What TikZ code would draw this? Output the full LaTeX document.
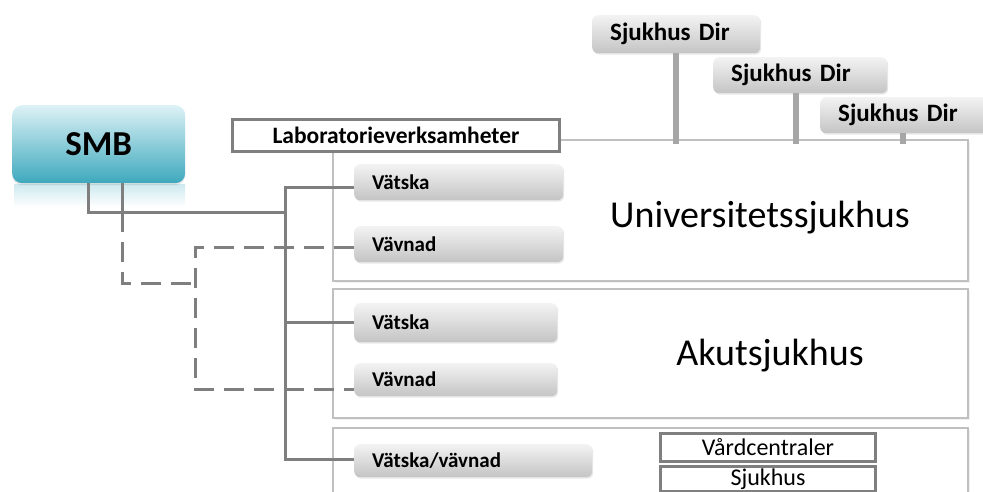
\documentclass[tikz,border=0pt]{standalone}
\usepackage{fontspec}
\setmainfont{Carlito}
\usetikzlibrary{shadows}
\definecolor{lineGray}{HTML}{7F7F7F}
\definecolor{panelGray}{HTML}{C0C0C0}
\definecolor{stemGray}{HTML}{A6A6A6}
\definecolor{btnTop}{HTML}{F3F3F3}
\definecolor{btnBot}{HTML}{C4C4C4}
\definecolor{smbTop}{HTML}{DDF2F6}
\definecolor{smbBot}{HTML}{3DA8BD}
\definecolor{smbRefl}{HTML}{CDE9EF}
\newcommand{\fsz}[1]{\fontsize{#1}{#1}\selectfont}
\begin{document}
\begin{tikzpicture}[x=1pt,y=-1pt,
  panel/.style={draw=panelGray, line width=1.5pt, fill=white, anchor=north west, inner sep=0pt,
    drop shadow={shadow xshift=2pt, shadow yshift=-2pt, opacity=0.12}},
  btn/.style={rounded corners=6pt, top color=btnTop, bottom color=btnBot, anchor=north west,
    inner xsep=18pt, inner ysep=0pt, align=left, font=\bfseries\fsz{21}, text=black,
    drop shadow={shadow xshift=1pt, shadow yshift=-1.5pt, opacity=0.18}},
  dirbox/.style={btn, font=\bfseries\fsz{25}},
  framebox/.style={draw=lineGray, line width=3pt, fill=white, anchor=north west, inner sep=0pt},
  solidc/.style={draw=lineGray, line width=3pt},
  dashc/.style={draw=lineGray, line width=3pt, dash pattern=on 20pt off 10pt},
  stem/.style={draw=stemGray, line width=6pt}
]
\useasboundingbox (0,0) rectangle (983,491);
\clip (0,0) rectangle (983,491);

% panels
\node[panel, minimum width=635pt, minimum height=141pt] (p1) at (332,139) {};
\node[panel, minimum width=635pt, minimum height=129pt] (p2) at (332,288) {};
\node[panel, minimum width=635pt, minimum height=100pt] (p3) at (332,427) {};

\node[font=\fsz{38}, anchor=base] (uni) at (760,227) {Universitetssjukhus};
\node[font=\fsz{38}, anchor=base] (akut) at (770,365) {Akutsjukhus};

% SMB
\shade[top color=smbRefl, bottom color=white] (14,184) rectangle (185,207);
\node[rounded corners=10pt, top color=smbTop, bottom color=smbBot, anchor=north west,
  minimum width=173pt, minimum height=78pt, inner sep=0pt, font=\bfseries\fsz{35},
  drop shadow={shadow xshift=0pt, shadow yshift=-2pt, opacity=0.2}] (smb) at (12,105) {SMB};

% Laboratorieverksamheter
\node[framebox, minimum width=327pt, minimum height=32pt, font=\bfseries\fsz{23.5}] (lab) at (231,118) {Laboratorieverksamheter};

% Sjukhus Dir
\coordinate (stemend) at (0,144);
\node[dirbox, text width=132pt, minimum height=38pt] (sd1) at (592,15) {Sjukhus Dir};
\node[dirbox, text width=138pt, minimum height=36pt] (sd2) at (713,57) {Sjukhus Dir};
\node[dirbox, text width=134pt, minimum height=36pt] (sd3) at (820,97) {Sjukhus Dir};
\draw[stem] (sd1.south) -- (sd1.south |- stemend);
\draw[stem] ([xshift=-4pt]sd2.south) -- ([xshift=-4pt]sd2.south |- stemend);
\draw[stem] ([xshift=-2pt]sd3.south) -- ([xshift=-2pt]sd3.south |- stemend);

% buttons
\node[btn, text width=173pt, minimum height=36pt] (v1) at (354,164) {Vätska};
\node[btn, text width=173pt, minimum height=36pt] (n1) at (354,226) {Vävnad};
\node[btn, text width=167pt, minimum height=39pt] (v2) at (354,303) {Vätska};
\node[btn, text width=167pt, minimum height=33pt] (n2) at (354,363) {Vävnad};
\node[btn, text width=202pt, minimum height=33pt] (vv) at (354,444) {Vätska/vävnad};

% Vårdcentraler / Sjukhus
\node[framebox, minimum width=215pt, minimum height=28pt, font=\fsz{24}] (vc) at (659,432) {Vårdcentraler};
\node[framebox, minimum width=215pt, minimum height=25pt, font=\fsz{24}] (sj) at (659,465) {Sjukhus};

% connectors
\coordinate (a1) at (88,212);
\coordinate (a2) at (122,212);
\coordinate (a3) at (122,283);
\coordinate (dx) at (195,283);
\coordinate (busx) at (285,212);
\draw[solidc] (smb.south -| a1) -- (a1) -- (busx);
\draw[solidc] (smb.south -| a2) -- (a2);
\draw[dashc] (a2) -- (a3) -- (dx);
\draw[dashc] ([yshift=-3pt]n1.west) -| (dx) |- ([yshift=-10pt]n2.west);
\draw[solidc] ([yshift=-5pt]v1.west) -| (busx) |- ([yshift=1.5pt]vv.west);
\draw[solidc] (v2.west) -- (v2.west -| busx);
\end{tikzpicture}
\end{document}
